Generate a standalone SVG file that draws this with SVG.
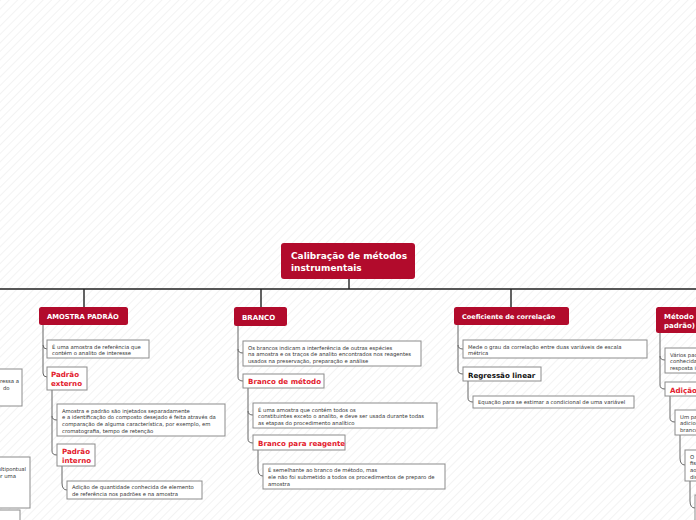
<svg xmlns="http://www.w3.org/2000/svg" width="696" height="520" viewBox="0 0 696 520">
<defs>
<pattern id="bg" width="6" height="6" patternUnits="userSpaceOnUse" patternTransform="rotate(45)">
<rect width="6" height="6" fill="#ffffff"/>
<line x1="0" y1="0" x2="0" y2="6" stroke="#eeeeee" stroke-width="1.4"/>
</pattern>
</defs>
<style>
.main{fill:#b20b2c}
.mt{fill:#ffffff;font-family:"DejaVu Sans",Verdana,sans-serif;font-weight:bold}
.box{fill:#ffffff;stroke:#8c8c8c;stroke-width:1}
.tx{fill:#333333;font-family:"DejaVu Sans",Verdana,sans-serif;font-size:5.3px}
.rt{fill:#e3202c;font-family:"DejaVu Sans",Verdana,sans-serif;font-weight:bold;font-size:7.1px}
.bt{fill:#111111;font-family:"DejaVu Sans",Verdana,sans-serif;font-weight:bold;font-size:7.1px}
.cn{fill:none;stroke:#666666;stroke-width:1}
.trunk{fill:none;stroke:#222222;stroke-width:1.4}
</style>
<rect width="696" height="520" fill="url(#bg)"/>

<g id="connectors">
<path class="trunk" d="M349,279 V289 M0,289 H696 M84,289 V307 M261,289 V307 M511,289 V307"/>
<path class="cn" d="M43,325 V345 Q43,349 47,349 M43,345 V373 Q43,377 47,377"/>
<path class="cn" d="M52,390 V416 Q52,420 57,420 M52,416 V451 Q52,455 57,455"/>
<path class="cn" d="M62,466 V483 Q62,490 67,490"/>
<path class="cn" d="M238,326 V349 Q238,353 243,353 M238,349 V377 Q238,381 243,381"/>
<path class="cn" d="M248,388 V411 Q248,415 253,415 M248,411 V439 Q248,443 253,443"/>
<path class="cn" d="M258,450 V469 Q258,476 263,476"/>
<path class="cn" d="M458,325 V345 Q458,349 463,349 M458,345 V370 Q458,374 463,374"/>
<path class="cn" d="M468,381 V398 Q468,402 473,402"/>
<path class="cn" d="M660,333 V356 Q660,360 665,360 M660,356 V385 Q660,389 665,389"/>
<path class="cn" d="M670,396 V418 Q670,422 675,422"/>
<path class="cn" d="M680,435 V458 Q680,465 685,465"/>
<path class="cn" d="M690,481 V501 Q690,508 695,508"/>
</g>

<g id="left-offscreen">
<rect class="box" x="-60" y="369" width="82" height="37"/>
<text class="tx" x="19" y="383" text-anchor="end">interessa a</text>
<text class="tx" x="9.5" y="390" text-anchor="end">do</text>
<rect class="box" x="-60" y="457" width="90" height="51"/>
<text class="tx" x="26" y="471" text-anchor="end">multipontual</text>
<text class="tx" x="16" y="478" text-anchor="end">por uma</text>
<rect class="box" x="-40" y="510" width="60" height="20"/>
</g>

<g id="central">
<rect class="main" x="281" y="243" width="134" height="36" rx="3"/>
<text class="mt" font-size="9" x="291" y="259">Calibração de métodos</text>
<text class="mt" font-size="9" x="291" y="271">instrumentais</text>
</g>

<g id="amostra-padrao">
<rect class="main" x="39" y="307" width="89" height="18" rx="2.5"/>
<text class="mt" font-size="6.8" x="47" y="319">AMOSTRA PADRÃO</text>
</g>
<g id="amostra-def">
<rect class="box" x="47" y="340" width="102" height="18"/>
<text class="tx" x="52" y="348.5">É uma amostra de referência que</text>
<text class="tx" x="52" y="355">contém o analito de interesse</text>
</g>
<g id="padrao-externo">
<rect class="box" x="47" y="367" width="40" height="23"/>
<text class="rt" x="51" y="377" font-size="7.4">Padrão</text>
<text class="rt" x="51" y="386" font-size="7.4">externo</text>
</g>
<g id="externo-def">
<rect class="box" x="57" y="404" width="168" height="32"/>
<text class="tx" x="62" y="412.5">Amostra e padrão são injetados separadamente</text>
<text class="tx" x="62" y="419.2">e a identificação do composto desejado é feita através da</text>
<text class="tx" x="62" y="425.9">comparação de alguma característica, por exemplo, em</text>
<text class="tx" x="62" y="432.6">cromatografia, tempo de retenção</text>
</g>
<g id="padrao-interno">
<rect class="box" x="57" y="444" width="38" height="22"/>
<text class="rt" x="62" y="454" font-size="7.4">Padrão</text>
<text class="rt" x="62" y="463" font-size="7.4">interno</text>
</g>
<g id="interno-def">
<rect class="box" x="67" y="481" width="135" height="18"/>
<text class="tx" x="72" y="489">Adição de quantidade conhecida de elemento</text>
<text class="tx" x="72" y="495.8">de referência nos padrões e na amostra</text>
</g>

<g id="branco">
<rect class="main" x="234" y="307" width="53" height="19" rx="2.5"/>
<text class="mt" font-size="7" x="242" y="320">BRANCO</text>
</g>
<g id="branco-def">
<rect class="box" x="243" y="341" width="178" height="25"/>
<text class="tx" x="248" y="349.5">Os brancos indicam a interferência de outras espécies</text>
<text class="tx" x="248" y="356.2">na amostra e os traços de analito encontrados nos reagentes</text>
<text class="tx" x="248" y="362.9">usados na preservação, preparação e análise</text>
</g>
<g id="branco-metodo">
<rect class="box" x="243" y="374" width="81" height="14"/>
<text class="rt" x="248" y="384">Branco de método</text>
</g>
<g id="metodo-def">
<rect class="box" x="253" y="403" width="184" height="25"/>
<text class="tx" x="258" y="411.5">É uma amostra que contém todos os</text>
<text class="tx" x="258" y="418.2">constituintes exceto o analito, e deve ser usada durante todas</text>
<text class="tx" x="258" y="424.9">as etapas do procedimento analítico</text>
</g>
<g id="branco-reagente">
<rect class="box" x="253" y="435" width="92" height="15"/>
<text class="rt" x="258" y="445.5">Branco para reagente</text>
</g>
<g id="reagente-def">
<rect class="box" x="263" y="464" width="182" height="25"/>
<text class="tx" x="268" y="472.3">É semelhante ao branco de método, mas</text>
<text class="tx" x="268" y="479">ele não foi submetido a todos os procedimentos de preparo de</text>
<text class="tx" x="268" y="485.7">amostra</text>
</g>

<g id="coeficiente">
<rect class="main" x="454" y="307" width="115" height="18" rx="2.5"/>
<text class="mt" font-size="6.5" x="462" y="319">Coeficiente de correlação</text>
</g>
<g id="coef-def">
<rect class="box" x="463" y="340" width="184" height="18"/>
<text class="tx" x="468" y="348.5">Mede o grau da correlação entre duas variáveis de escala</text>
<text class="tx" x="468" y="355">métrica</text>
</g>
<g id="regressao">
<rect class="box" x="463" y="367" width="78" height="14"/>
<text class="bt" x="468" y="377.5">Regressão linear</text>
</g>
<g id="regressao-def">
<rect class="box" x="473" y="396" width="161" height="12"/>
<text class="tx" x="478" y="404">Equação para se estimar a condicional de uma variável</text>
</g>

<g id="metodo-adicao">
<rect class="main" x="656" y="307" width="70" height="26" rx="2.5"/>
<text class="mt" font-size="7" x="664" y="318.5">Método (adição de</text>
<text class="mt" font-size="7" x="664" y="328">padrão)</text>
</g>
<g id="adicao-def">
<rect class="box" x="665" y="348" width="60" height="25"/>
<text class="tx" x="670" y="356.5">Vários padrões de</text>
<text class="tx" x="670" y="363.2">conhecida</text>
<text class="tx" x="670" y="369.9">resposta instrumental</text>
</g>
<g id="adicao">
<rect class="box" x="665" y="382" width="60" height="14"/>
<text class="rt" x="670" y="392.5">Adição padrão</text>
</g>
<g id="adicao-child1">
<rect class="box" x="675" y="410" width="60" height="25"/>
<text class="tx" x="680" y="418.5">Um padrão</text>
<text class="tx" x="680" y="425.2">adicionado</text>
<text class="tx" x="680" y="431.9">branco</text>
</g>
<g id="adicao-child2">
<rect class="box" x="685" y="450" width="60" height="31"/>
<text class="tx" x="690" y="458.5">O</text>
<text class="tx" x="690" y="465.2">fisico</text>
<text class="tx" x="690" y="471.9">ao</text>
<text class="tx" x="690" y="478.6">dis</text>
</g>
<g id="adicao-child3">
<rect class="box" x="695" y="495" width="60" height="30"/>
</g>
</svg>
